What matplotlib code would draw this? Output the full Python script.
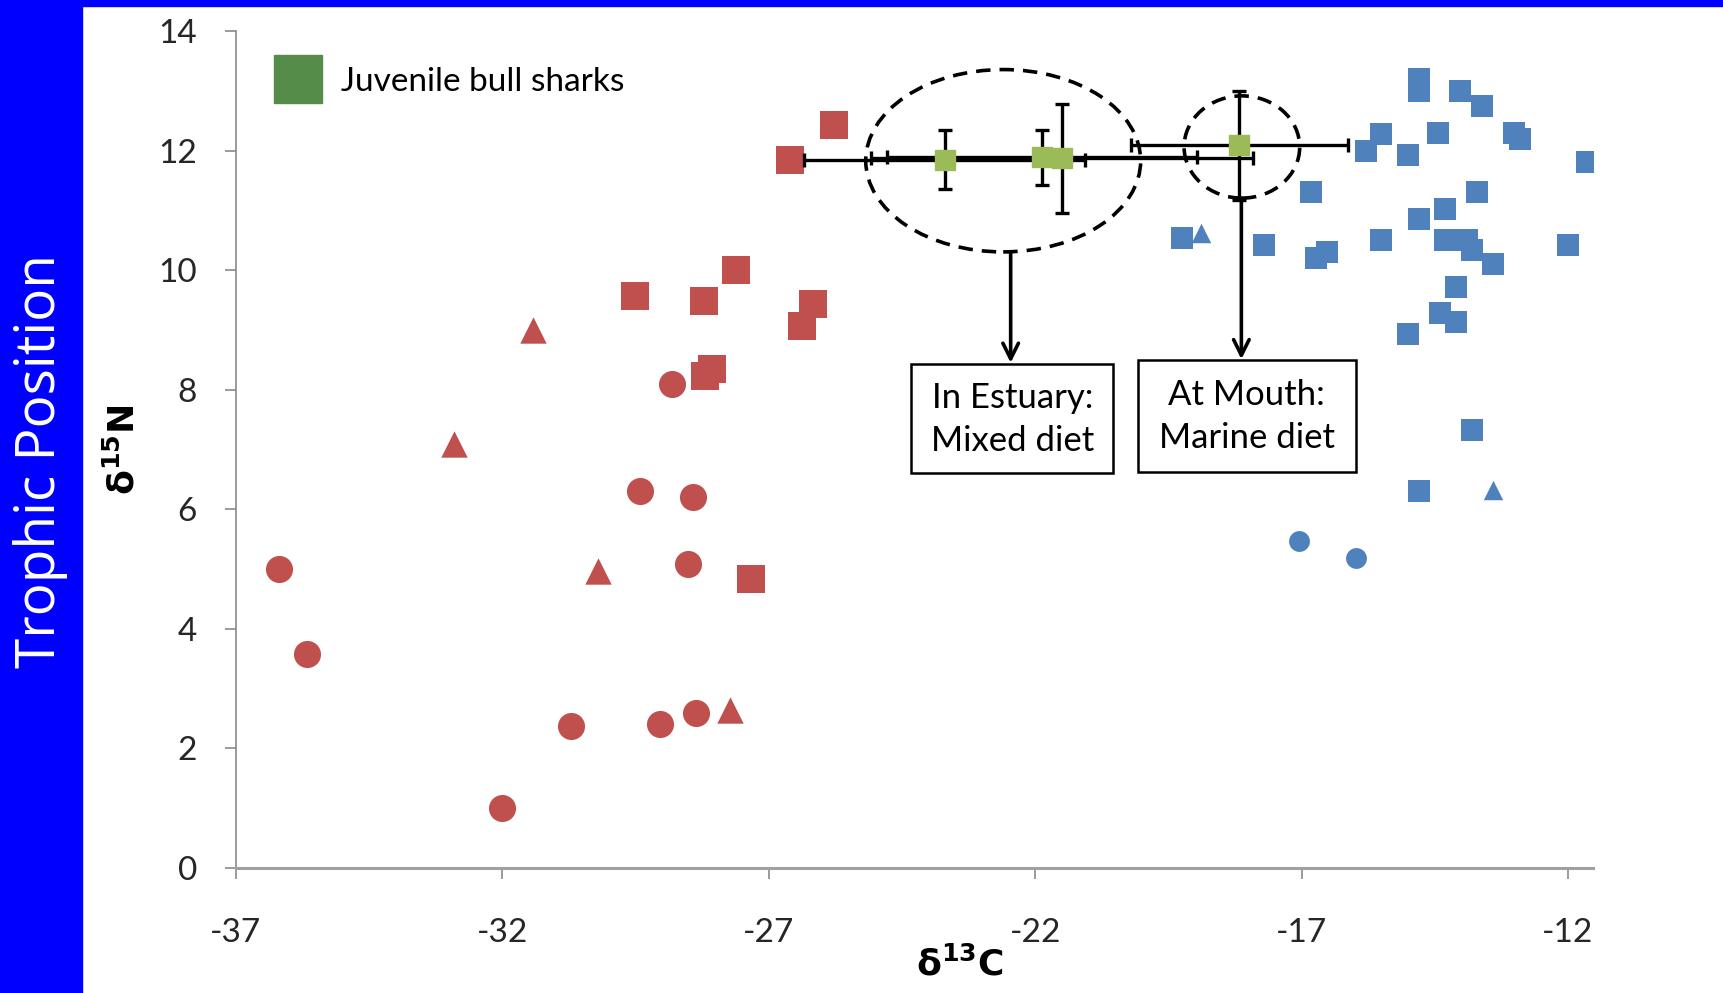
import numpy as np
import matplotlib
matplotlib.use("Agg")
import matplotlib.pyplot as plt
from matplotlib.patches import Ellipse, Rectangle
from matplotlib.lines import Line2D

# 数据
red_sq_x = [-26.60, -25.78, -29.51, -28.21, -27.61, -26.17, -26.38, -28.19, -28.07, -27.33]
red_sq_y = [11.85, 12.42, 9.57, 9.48, 10.01, 9.44, 9.06, 8.23, 8.34, 4.83]
red_ci_x = [-36.20, -35.66, -32.01, -30.71, -29.04, -28.36, -28.52, -28.42, -29.41, -28.81]
red_ci_y = [5.00, 3.58, 1.01, 2.37, 2.41, 2.59, 5.09, 6.21, 6.30, 8.10]
red_tri_x = [-31.43, -32.90, -30.21, -27.72]
red_tri_y = [9.00, 7.09, 4.96, 2.65]

blue_sq_x = [-14.80, -14.80, -14.02, -13.61, -15.51, -15.80, -14.43, -15.01, -13.01, -12.90,
             -11.65, -16.83, -13.71, -14.31, -14.80, -19.24, -17.71, -15.51, -16.52, -16.73,
             -14.31, -13.90, -13.80, -13.40, -12.00, -14.10, -14.41, -14.10, -15.01, -13.80, -14.80]
blue_sq_y = [13.19, 12.99, 12.99, 12.75, 12.27, 12.00, 12.29, 11.92, 12.29, 12.20,
             11.81, 11.30, 11.30, 11.02, 10.86, 10.53, 10.42, 10.51, 10.31, 10.21,
             10.51, 10.51, 10.33, 10.10, 10.42, 9.72, 9.28, 9.13, 8.93, 7.33, 6.30]
blue_ci_x = [-17.05, -15.98]
blue_ci_y = [5.47, 5.18]
blue_tri_x = [-18.89, -13.40]
blue_tri_y = [10.62, 6.32]

shark_x = [-23.70, -21.88, -21.50, -18.17]
shark_y = [11.85, 11.89, 11.87, 12.09]
shark_xerr = [2.63, 2.91, 3.58, 2.04]
shark_yerr = [0.50, 0.46, 0.91, 0.91]

x_ticks = [-37, -32, -27, -22, -17, -12]
y_ticks = [0, 2, 4, 6, 8, 10, 12, 14]

RED = "#C0504D"
BLUE = "#4F81BD"
GREEN = "#9BBB59"
LEG_GREEN = "#568C4A"

plt.rcParams["axes.unicode_minus"] = False
plt.rcParams["mathtext.fontset"] = "dejavusans"

fig = plt.figure(figsize=(17.23, 9.93), dpi=100)
fig.patches.append(Rectangle((0, 0), 82 / 1723, 1, transform=fig.transFigure,
                             color="#0000FF", zorder=0))
fig.patches.append(Rectangle((0, 1 - 6 / 993), 1, 6 / 993, transform=fig.transFigure,
                             color="#0000FF", zorder=0))
fig.text(41 / 1723, 0.536, "Trophic Position", rotation=90, color="white",
         family="Open Sans", fontsize=39.5, ha="center", va="center")

ax = fig.add_axes([236 / 1723, 1 - 868 / 993, (1593 - 236) / 1723, (868 - 31) / 993])
ax.set_xlim(-37, -11.53)
ax.set_ylim(0, 14)

ax.scatter(red_sq_x, red_sq_y, marker="s", s=20.5 ** 2, color=RED, lw=0, zorder=3)
ax.scatter(red_ci_x, red_ci_y, marker="o", s=19.5 ** 2, color=RED, lw=0, zorder=3)
ax.scatter(red_tri_x, red_tri_y, marker="^", s=19 ** 2, color=RED, lw=0, zorder=3)
ax.scatter(blue_sq_x, blue_sq_y, marker="s", s=15.5 ** 2, color=BLUE, lw=0, zorder=3)
ax.scatter(blue_ci_x, blue_ci_y, marker="o", s=15 ** 2, color=BLUE, lw=0, zorder=3)
ax.scatter(blue_tri_x, blue_tri_y, marker="^", s=14 ** 2, color=BLUE, lw=0, zorder=3)

ax.errorbar(shark_x, shark_y, xerr=shark_xerr, yerr=shark_yerr, fmt="s", ms=15,
            color=GREEN, mec=GREEN, ecolor="black", elinewidth=2.4, capsize=5,
            capthick=2.4, zorder=4)

# 虚线椭圆
ax.add_patch(Ellipse((-22.60, 11.83), 5.16, 3.05, fill=False, ls=(0, (4, 2.5)),
                     lw=2.6, ec="black", zorder=5))
ax.add_patch(Ellipse((-18.12, 12.06), 2.17, 1.71, fill=False, ls=(0, (4, 2.5)),
                     lw=2.6, ec="black", zorder=5))

# 箭头
arrow = dict(arrowstyle="->", lw=2.6, color="black", mutation_scale=28,
             shrinkA=0, shrinkB=0)
ax.annotate("", xy=(-22.46, 8.45), xytext=(-22.46, 10.31), arrowprops=arrow, zorder=5)
ax.annotate("", xy=(-18.13, 8.51), xytext=(-18.13, 11.2), arrowprops=arrow, zorder=5)

# 文本框
ax.add_patch(Rectangle((-24.33, 6.60), 3.80, 1.83, fill=True, fc="white", ec="black",
                       lw=1.8, zorder=5))
ax.text(-22.43, 7.50, "In Estuary:\nMixed diet", ha="center", va="center",
        family="Lato", fontsize=25, linespacing=1.45, zorder=6)
ax.add_patch(Rectangle((-20.07, 6.63), 4.09, 1.86, fill=True, fc="white", ec="black",
                       lw=1.8, zorder=5))
ax.text(-18.03, 7.55, "At Mouth:\nMarine diet", ha="center", va="center",
        family="Lato", fontsize=25, linespacing=1.45, zorder=6)

# 坐标轴
for s in ["top", "right"]:
    ax.spines[s].set_visible(False)
ax.spines["left"].set_color("#8A8A8A")
ax.spines["left"].set_linewidth(1.2)
ax.spines["bottom"].set_color("#A0A0A0")
ax.spines["bottom"].set_linewidth(2.2)
ax.set_xticks(x_ticks)
ax.set_yticks(y_ticks)
ax.set_xticklabels([str(v) for v in x_ticks])
ax.set_yticklabels([str(v) for v in y_ticks])
ax.tick_params(axis="both", colors="#8A8A8A", labelcolor="#262626", length=8,
               width=1.2, labelsize=24)
ax.tick_params(axis="x", pad=28)
ax.tick_params(axis="y", pad=20)
for lab in ax.get_xticklabels() + ax.get_yticklabels():
    lab.set_family("Lato")

ax.set_xlabel(r"$\mathbf{\delta^{13}C}$", fontsize=26)
ax.set_ylabel(r"$\mathbf{\delta^{15}N}$", fontsize=26, labelpad=12)
ax.xaxis.set_label_coords(0.533, -0.094)

leg_h = Line2D([], [], marker="s", color=LEG_GREEN, ls="none", markersize=34)
ax.legend([leg_h], ["Juvenile bull sharks"], loc="upper left", bbox_to_anchor=(0.004, 0.985),
          frameon=False, prop={"family": "Lato", "size": 24}, handletextpad=0.3,
          borderpad=0.2)

fig.savefig("out.png", dpi=100)
